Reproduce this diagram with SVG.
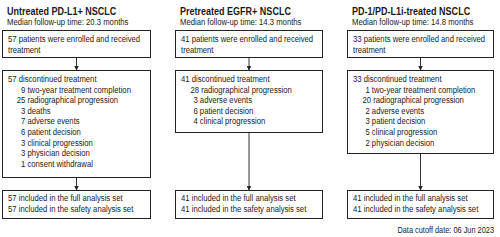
<svg xmlns="http://www.w3.org/2000/svg" width="500" height="237" viewBox="0 0 500 237">
<style>
  text { font-family: "Liberation Sans", Arial, sans-serif; fill: #1a1a1a; }
  .ti { font-size: 11px; font-weight: bold; }
  .st { font-size: 9.4px; }
  .bt { font-size: 9.4px; }
  .dc { font-size: 9px; }
  .box { fill: #ffffff; stroke: #222222; stroke-width: 1; }
  .con { stroke: #333333; stroke-width: 1; fill: none; marker-end: url(#ah); }
</style>
<defs>
  <marker id="ah" viewBox="0 0 6 6" refX="6" refY="3" markerWidth="5" markerHeight="5" markerUnits="userSpaceOnUse" orient="auto">
    <path d="M0,0 L6,3 L0,6 z" fill="#222222"/>
  </marker>
</defs>
<rect width="500" height="237" fill="#ffffff"/>

<g id="header1">
  <g transform="translate(7 0) scale(0.82 1)">
    <text class="ti" x="0" y="15">Untreated PD-L1+ NSCLC</text>
    <text class="st" x="0" y="25.5">Median follow-up time: 20.3 months</text>
  </g>
</g>
<g id="header2">
  <g transform="translate(180 0) scale(0.82 1)">
    <text class="ti" x="0" y="15">Pretreated EGFR+ NSCLC</text>
    <text class="st" x="0" y="25.5">Median follow-up time: 14.3 months</text>
  </g>
</g>
<g id="header3">
  <g transform="translate(352 0) scale(0.82 1)">
    <text class="ti" x="0" y="15">PD-1/PD-L1i-treated NSCLC</text>
    <text class="st" x="0" y="25.5">Median follow-up time: 14.8 months</text>
  </g>
</g>

<g id="connectors">
  <line class="con" x1="76.5" y1="57.5" x2="76.5" y2="70.5"/>
  <line class="con" x1="76.5" y1="177.5" x2="76.5" y2="190.5"/>
  <line class="con" x1="249" y1="57.5" x2="249" y2="70.5"/>
  <line class="con" x1="249" y1="132.5" x2="249" y2="190.5"/>
  <line class="con" x1="420.5" y1="57.5" x2="420.5" y2="70.5"/>
  <line class="con" x1="420.5" y1="153.5" x2="420.5" y2="190.5"/>
</g>

<!-- Column 1 -->
<g id="c1_enrolled">
  <rect class="box" x="2.5" y="30.5" width="148" height="27"/>
  <g transform="translate(8 0) scale(0.82 1)">
    <text class="bt" x="0" y="42">57 patients were enrolled and received</text>
    <text class="bt" x="0" y="53">treatment</text>
  </g>
</g>
<g id="c1_discontinued">
  <rect class="box" x="2.5" y="70.5" width="148" height="107"/>
  <g transform="translate(8 0) scale(0.82 1)">
    <text class="bt" x="0" y="82">57 discontinued treatment</text>
    <text class="bt" x="15.9" y="92.6">9 two-year treatment completion</text>
    <text class="bt" x="10.6" y="103.2">25 radiographical progression</text>
    <text class="bt" x="15.9" y="113.8">3 deaths</text>
    <text class="bt" x="15.9" y="124.4">7 adverse events</text>
    <text class="bt" x="15.9" y="135">6 patient decision</text>
    <text class="bt" x="15.9" y="145.6">3 clinical progression</text>
    <text class="bt" x="15.9" y="156.2">3 physician decision</text>
    <text class="bt" x="15.9" y="166.8">1 consent withdrawal</text>
  </g>
</g>
<g id="c1_analysis">
  <rect class="box" x="2.5" y="190.5" width="148" height="28"/>
  <g transform="translate(8 0) scale(0.82 1)">
    <text class="bt" x="0" y="201.5">57 included in the full analysis set</text>
    <text class="bt" x="0" y="212.5">57 included in the safety analysis set</text>
  </g>
</g>

<!-- Column 2 -->
<g id="c2_enrolled">
  <rect class="box" x="175.5" y="30.5" width="147" height="27"/>
  <g transform="translate(181 0) scale(0.82 1)">
    <text class="bt" x="0" y="42">41 patients were enrolled and received</text>
    <text class="bt" x="0" y="53">treatment</text>
  </g>
</g>
<g id="c2_discontinued">
  <rect class="box" x="175.5" y="70.5" width="147" height="62"/>
  <g transform="translate(181 0) scale(0.82 1)">
    <text class="bt" x="0" y="82">41 discontinued treatment</text>
    <text class="bt" x="11.6" y="92.6">28 radiographical progression</text>
    <text class="bt" x="15.2" y="103.2">3 adverse events</text>
    <text class="bt" x="15.2" y="113.8">6 patient decision</text>
    <text class="bt" x="15.2" y="124.4">4 clinical progression</text>
  </g>
</g>
<g id="c2_analysis">
  <rect class="box" x="175.5" y="190.5" width="147" height="28"/>
  <g transform="translate(181 0) scale(0.82 1)">
    <text class="bt" x="0" y="201.5">41 included in the full analysis set</text>
    <text class="bt" x="0" y="212.5">41 included in the safety analysis set</text>
  </g>
</g>

<!-- Column 3 -->
<g id="c3_enrolled">
  <rect class="box" x="347.5" y="30.5" width="146" height="27"/>
  <g transform="translate(353 0) scale(0.82 1)">
    <text class="bt" x="0" y="42">33 patients were enrolled and received</text>
    <text class="bt" x="0" y="53">treatment</text>
  </g>
</g>
<g id="c3_discontinued">
  <rect class="box" x="347.5" y="70.5" width="146" height="83"/>
  <g transform="translate(353 0) scale(0.82 1)">
    <text class="bt" x="0" y="82">33 discontinued treatment</text>
    <text class="bt" x="15.2" y="92.6">1 two-year treatment completion</text>
    <text class="bt" x="11.6" y="103.2">20 radiographical progression</text>
    <text class="bt" x="15.2" y="113.8">2 adverse events</text>
    <text class="bt" x="15.2" y="124.4">3 patient decision</text>
    <text class="bt" x="15.2" y="135">5 clinical progression</text>
    <text class="bt" x="15.2" y="145.6">2 physician decision</text>
  </g>
</g>
<g id="c3_analysis">
  <rect class="box" x="347.5" y="190.5" width="146" height="28"/>
  <g transform="translate(353 0) scale(0.82 1)">
    <text class="bt" x="0" y="201.5">41 included in the full analysis set</text>
    <text class="bt" x="0" y="212.5">41 included in the safety analysis set</text>
  </g>
</g>

<g id="footnote">
  <g transform="translate(494 0) scale(0.82 1)">
    <text class="dc" x="0" y="233.5" text-anchor="end">Data cutoff date: 06 Jun 2023</text>
  </g>
</g>
</svg>
